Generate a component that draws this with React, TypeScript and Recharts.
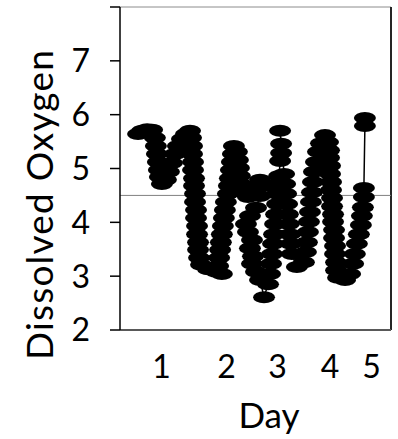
import React from 'react';
import { LineChart, Line, XAxis, YAxis, ReferenceLine } from 'recharts';

// Time in hours since start of record, and dissolved oxygen readings
const hours = [
  7.2, 8.8, 10.8, 12.8, 13.9, 14.3, 14.7, 15.1, 15.5, 15.9, 16.7, 18.3, 19.5, 20.7, 21.9, 23.1, 24.7, 26.3, 27.9,
  28.3, 28.7, 28.7, 29.1, 29.1, 29.5, 29.5, 29.9, 29.9, 30.3, 30.3, 30.7, 30.7, 31.1, 31.1, 31.5, 32.3, 35.1, 38.3, 40.6,
  39.1, 39.5, 39.9, 40.2, 40.6, 41.0, 41.4, 41.8, 42.2, 43.0, 43.4, 43.8, 44.2, 44.6, 45.0, 45.4,
  46.6, 47.0, 47.4, 47.8, 48.2, 49.0, 51.0, 53.4, 55.8, 57.4,
  55.8, 54.2, 51.8, 50.2, 51.0, 52.6, 51.8, 53.0, 52.6, 54.2, 55.8, 57.4,
  59.0, 59.8, 60.2, 60.6, 61.0, 61.4, 61.8, 62.2, 62.6, 62.6, 63.0, 63.4, 63.8, 64.2, 64.2, 63.8,
  65.4, 65.8, 66.2, 66.6, 66.9, 67.3, 67.7, 68.1, 68.5, 70.5,
  73.3, 74.1, 74.5, 74.9, 75.3, 75.7, 76.1, 76.5, 76.9, 77.3, 78.1, 78.9, 80.1, 81.7,
  82.9, 83.3, 83.3, 83.7, 83.7, 84.1, 84.1, 84.5, 84.5, 84.9, 84.9, 85.3, 85.3, 85.7, 85.7, 86.1, 86.1, 86.9, 89.7,
  91.7, 92.9, 93.6, 94.4, 95.2, 96.0, 96.4, 96.8, 97.2, 97.2, 97.6, 97.6,
];

const oxygen = [
  5.64, 5.70, 5.73, 5.72, 5.57, 5.42, 5.27, 5.12, 4.97, 4.84, 4.71, 4.79, 4.94, 5.10, 5.27, 5.42, 5.55, 5.64, 5.70,
  5.57, 5.42, 5.27, 5.12, 4.97, 4.82, 4.68, 4.53, 4.38, 4.23, 4.08, 3.93, 3.78, 3.63, 3.49, 3.34, 3.21, 3.13, 3.08, 3.04,
  3.19, 3.34, 3.49, 3.63, 3.78, 3.93, 4.08, 4.23, 4.38, 4.53, 4.68, 4.82, 4.97, 5.12, 5.27, 5.42,
  5.31, 5.16, 5.01, 4.86, 4.71, 4.56, 4.47, 4.64, 4.79, 4.68,
  4.49, 4.27, 4.12, 3.97, 3.82, 3.67, 3.52, 3.37, 3.23, 3.08, 2.93, 2.61,
  2.85, 3.04, 3.23, 3.41, 3.60, 3.78, 3.97, 4.15, 4.34, 4.53, 4.71, 4.86, 5.14, 5.29, 5.46, 5.70,
  4.90, 4.71, 4.53, 4.34, 4.15, 3.97, 3.78, 3.60, 3.41, 3.17,
  3.26, 3.45, 3.63, 3.82, 4.01, 4.19, 4.38, 4.56, 4.75, 4.94, 5.12, 5.31, 5.47, 5.62,
  5.49, 5.34, 5.20, 5.05, 4.90, 4.75, 4.60, 4.45, 4.30, 4.15, 4.01, 3.86, 3.71, 3.56, 3.41, 3.26, 3.11, 2.97, 2.93,
  3.04, 3.23, 3.41, 3.60, 3.78, 3.95, 4.12, 4.28, 4.47, 4.64, 5.79, 5.94,
];

const dayTickHours = [16.6, 42.5, 62.8, 83.7, 100.2];
const dayTickLabels = ['1', '2', '3', '4', '5'];
const oxygenTicks = [2, 3, 4, 5, 6, 7, 8];
const oxygenTickLabels = ['2', '3', '4', '5', '6', '7', ''];
const threshold = 4.5;
const timeDomain: [number, number] = [0, 108];
const oxygenDomain: [number, number] = [2, 8];

const data = hours.map((h, i) => ({ h, o: oxygen[i] }));

const FONT = 'Lato, "Open Sans", sans-serif';

const Blob = (props: any) => {
  const { cx, cy, index } = props;
  if (cx == null || cy == null) return <g key={`b${index}`} />;
  return <ellipse key={`b${index}`} cx={cx} cy={cy} rx={11} ry={6} fill="#000" />;
};

const DayLabel = (p: any) => {
  const vb = p.viewBox || { x: 120, y: 330, width: 271, height: 60 };
  return (
    <text x={vb.x + vb.width / 2 + 13.5} y={vb.y + 98} textAnchor="middle" fill="#000" fontSize={35} fontFamily={FONT}>
      Day
    </text>
  );
};

const OxLabel = (p: any) => {
  const vb = p.viewBox || { x: 60, y: 7, width: 60, height: 323 };
  const x = 53;
  const y = vb.y + vb.height / 2 + 36;
  return (
    <text
      x={x}
      y={y}
      transform={`rotate(-90, ${x}, ${y})`}
      textAnchor="middle"
      fill="#000"
      fontSize={37}
      letterSpacing={1.2}
      fontFamily={FONT}
    >
      Dissolved Oxygen
    </text>
  );
};

export default function App() {
  return (
    <div style={{ position: 'absolute', left: 0, top: 0, width: 398, height: 439, background: '#fff' }}>
      <LineChart width={398} height={439} data={data} margin={{ top: 7, right: 7, left: 60, bottom: 49 }}>
        <XAxis
          dataKey="h"
          type="number"
          domain={timeDomain}
          ticks={dayTickHours}
          interval={0}
          tickFormatter={(v: number) => dayTickLabels[dayTickHours.indexOf(v)] ?? ''}
          height={60}
          tickLine={false}
          tickSize={10}
          tickMargin={15}
          axisLine={{ stroke: '#595959', strokeWidth: 2 }}
          tick={{ fill: '#000', fontSize: 32, fontFamily: FONT }}
          label={{ content: DayLabel } as any}
        />
        <YAxis
          type="number"
          domain={oxygenDomain}
          ticks={oxygenTicks}
          interval={0}
          tickFormatter={(v: number) => oxygenTickLabels[oxygenTicks.indexOf(v)] ?? ''}
          width={60}
          tickSize={10}
          tickMargin={20}
          tickLine={{ stroke: '#000', strokeWidth: 1.5 }}
          axisLine={{ stroke: '#000', strokeWidth: 1.5 }}
          tick={{ fill: '#000', fontSize: 32, fontFamily: FONT }}
          label={{ content: OxLabel } as any}
        />
        <ReferenceLine y={oxygenDomain[1]} stroke="#8c8c8c" strokeWidth={1} />
        <ReferenceLine x={timeDomain[1]} stroke="#262626" strokeWidth={2} />
        <ReferenceLine y={threshold} stroke="#808080" strokeWidth={1} />
        <Line
          dataKey="o"
          stroke="#000"
          strokeWidth={1.5}
          dot={Blob}
          activeDot={false}
          isAnimationActive={false}
        />
      </LineChart>
    </div>
  );
}
